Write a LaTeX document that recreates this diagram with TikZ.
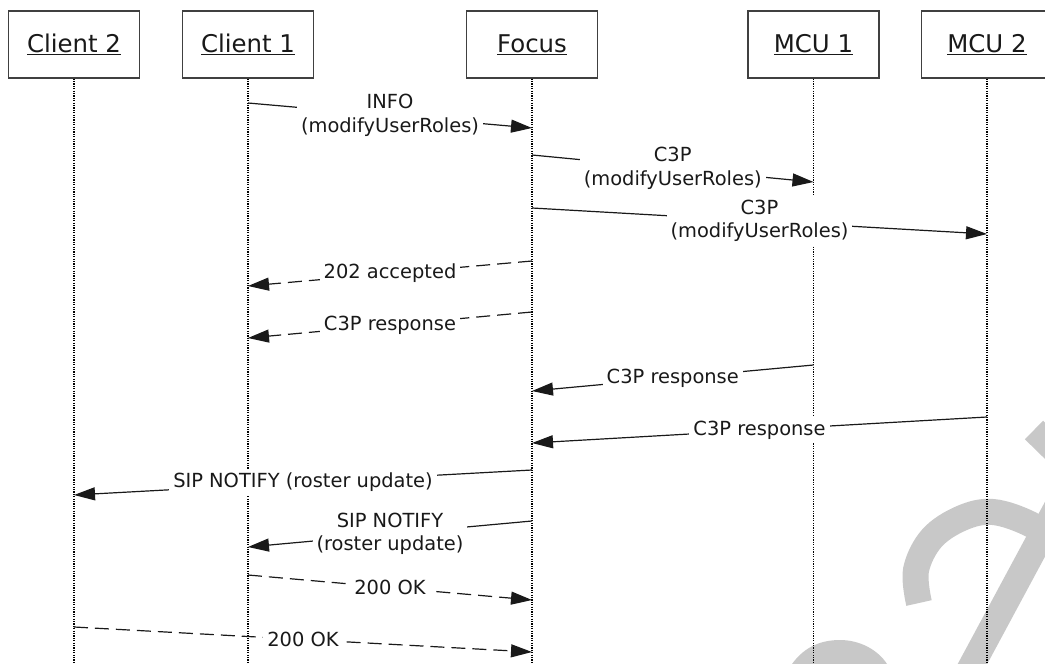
\documentclass[tikz,border=0pt]{standalone}
\usepackage{fontspec}
\setmainfont{DejaVu Sans}
\usetikzlibrary{arrows.meta}
\definecolor{wm}{RGB}{200,200,200}
\begin{document}
\begin{tikzpicture}[x=1bp,y=-1bp,
  actor/.style={draw=black!75, line width=1.2bp, minimum width=131bp, minimum height=67bp, inner sep=0pt, font=\fontsize{24.5}{29}\selectfont, text=black!90, fill=white},
  life/.style={line width=1.1bp, dash pattern=on 1.2bp off 1.2bp, black},
  msg/.style={line width=1.2bp, black!90, -{Triangle[length=21bp,width=13bp]}},
  reply/.style={msg, dash pattern=on 14bp off 7bp},
  lbl/.style={fill=white, inner sep=4bp, font=\fontsize{19.5}{23.5}\selectfont, text=black!90, align=center},
  wmark/.style={draw=wm, line width=26bp, line cap=butt}
]
\useasboundingbox (0,0) rectangle (1045,664);
% watermark
\begin{scope}
\clip (0,0) rectangle (1045,664);
\draw[wmark] plot[smooth, tension=0.6] coordinates {(919,603) (916,570) (932,538) (962,518) (993,512) (1030,524) (1060,545)};
\draw[wmark] (1058,505) -- (966,676);
\draw[wmark] (1034,430) -- (1080,475);
\fill[wm] (792,664) .. controls (805,646) and (822,640) .. (840,640) .. controls (860,640) and (878,650) .. (887,664) -- cycle;
\end{scope}
% actors
\node[actor] (c2) at (74,44.5) {\underline{Client 2}};
\node[actor] (c1) at (248,44.5) {\underline{Client 1}};
\node[actor] (fo) at (532,44.5) {\underline{Focus}};
\node[actor] (m1) at (813.5,44.5) {\underline{MCU 1}};
\node[actor] (m2) at (987,44.5) {\underline{MCU 2}};
% lifeline ends
\coordinate (c2e) at (74,664);
\coordinate (c1e) at (248,664);
\coordinate (foe) at (532,664);
\coordinate (m1e) at (813.5,664);
\coordinate (m2e) at (987,664);
\draw[life] (c2.south) -- (c2e);
\draw[life] (c1.south) -- (c1e);
\draw[life] (fo.south) -- (foe);
\draw[life] (m1.south) -- (m1e);
\draw[life] (m2.south) -- (m2e);
% message end points
\coordinate (p1a) at (248,103);  \coordinate (p1b) at (532,128);
\coordinate (p2a) at (532,155);  \coordinate (p2b) at (813.5,182);
\coordinate (p3a) at (532,208);  \coordinate (p3b) at (987,234);
\coordinate (p4a) at (532,261);  \coordinate (p4b) at (248,286);
\coordinate (p5a) at (532,312);  \coordinate (p5b) at (248,338);
\coordinate (p6a) at (813.5,365);  \coordinate (p6b) at (532,391);
\coordinate (p7a) at (987,417);  \coordinate (p7b) at (532,443);
\coordinate (p8a) at (532,470);  \coordinate (p8b) at (74,495);
\coordinate (p9a) at (532,521);  \coordinate (p9b) at (248,547);
\coordinate (p10a) at (248,575); \coordinate (p10b) at (532,600);
\coordinate (p11a) at (74,627);  \coordinate (p11b) at (532,652);
% messages
\draw[msg] (p1a) -- node[lbl] {INFO\\(modifyUserRoles)} (p1b);
\draw[msg] (p2a) -- node[lbl] {C3P\\(modifyUserRoles)} (p2b);
\draw[msg] (p3a) -- node[lbl] {C3P\\(modifyUserRoles)} (p3b);
\draw[reply] (p4a) -- node[lbl] {202 accepted} (p4b);
\draw[reply] (p5a) -- node[lbl] {C3P response} (p5b);
\draw[msg] (p6a) -- node[lbl] {C3P response} (p6b);
\draw[msg] (p7a) -- node[lbl] {C3P response} (p7b);
\draw[msg] (p8a) -- node[lbl] {SIP NOTIFY (roster update)} (p8b);
\draw[msg] (p9a) -- node[lbl] {SIP NOTIFY\\(roster update)} (p9b);
\draw[reply] (p10a) -- node[lbl] {200 OK} (p10b);
\draw[reply] (p11a) -- node[lbl] {200 OK} (p11b);
\end{tikzpicture}
\end{document}
